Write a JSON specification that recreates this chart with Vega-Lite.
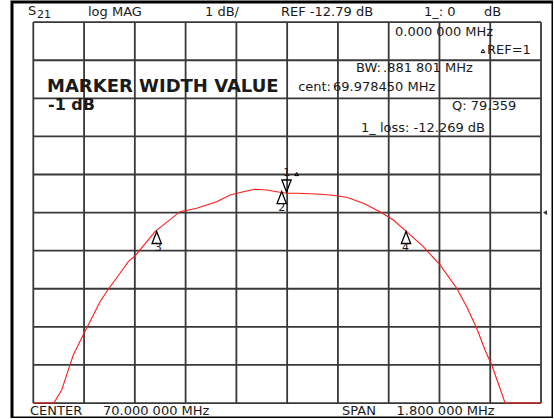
{
  "$schema": "https://vega.github.io/schema/vega-lite/v6.json",
  "width": 541,
  "height": 416,
  "autosize": "none",
  "padding": {"left": 12, "top": 2, "right": 0, "bottom": 0},
  "background": "white",
  "config": {
    "view": {"stroke": "black", "strokeWidth": 3},
    "text": {"font": "DejaVu Sans", "color": "#1a1a1a", "align": "left", "baseline": "middle"}
  },
  "datasets": {
    "vgrid": [{"f": 69.1, "lo": -17.79, "hi": -7.79}, {"f": 69.28, "lo": -17.79, "hi": -7.79}, {"f": 69.46, "lo": -17.79, "hi": -7.79}, {"f": 69.64, "lo": -17.79, "hi": -7.79}, {"f": 69.82, "lo": -17.79, "hi": -7.79}, {"f": 70.0, "lo": -17.79, "hi": -7.79}, {"f": 70.18, "lo": -17.79, "hi": -7.79}, {"f": 70.36, "lo": -17.79, "hi": -7.79}, {"f": 70.54, "lo": -17.79, "hi": -7.79}, {"f": 70.72, "lo": -17.79, "hi": -7.79}, {"f": 70.9, "lo": -17.79, "hi": -7.79}],
    "hgrid": [{"d": -17.79, "lo": 69.1, "hi": 70.9}, {"d": -16.79, "lo": 69.1, "hi": 70.9}, {"d": -15.79, "lo": 69.1, "hi": 70.9}, {"d": -14.79, "lo": 69.1, "hi": 70.9}, {"d": -13.79, "lo": 69.1, "hi": 70.9}, {"d": -12.79, "lo": 69.1, "hi": 70.9}, {"d": -11.79, "lo": 69.1, "hi": 70.9}, {"d": -10.79, "lo": 69.1, "hi": 70.9}, {"d": -9.79, "lo": 69.1, "hi": 70.9}, {"d": -8.79, "lo": 69.1, "hi": 70.9}, {"d": -7.79, "lo": 69.1, "hi": 70.9}],
    "trace": [
      {"f": 69.1, "d": -17.79}, {"f": 69.173, "d": -17.79}, {"f": 69.2007, "d": -17.446}, {"f": 69.2301, "d": -16.79},
      {"f": 69.2418, "d": -16.528}, {"f": 69.2798, "d": -15.958}, {"f": 69.3071, "d": -15.564}, {"f": 69.3365, "d": -15.129},
      {"f": 69.3659, "d": -14.803}, {"f": 69.4074, "d": -14.383}, {"f": 69.4368, "d": -14.079}, {"f": 69.4606, "d": -13.929},
      {"f": 69.5077, "d": -13.509}, {"f": 69.5315, "d": -13.291}, {"f": 69.6201, "d": -12.766}, {"f": 69.6793, "d": -12.677},
      {"f": 69.7502, "d": -12.504}, {"f": 69.7974, "d": -12.328}, {"f": 69.8445, "d": -12.241}, {"f": 69.886, "d": -12.178},
      {"f": 69.9275, "d": -12.197}, {"f": 69.9629, "d": -12.241}, {"f": 69.9984, "d": -12.283}, {"f": 70.0339, "d": -12.283},
      {"f": 70.1048, "d": -12.302}, {"f": 70.1519, "d": -12.328}, {"f": 70.2111, "d": -12.388}, {"f": 70.27, "d": -12.546},
      {"f": 70.3292, "d": -12.766}, {"f": 70.3763, "d": -12.984}, {"f": 70.4238, "d": -13.291}, {"f": 70.4827, "d": -13.685},
      {"f": 70.5419, "d": -14.165}, {"f": 70.6011, "d": -14.777}, {"f": 70.6366, "d": -15.26}, {"f": 70.672, "d": -15.827},
      {"f": 70.7014, "d": -16.396}, {"f": 70.7252, "d": -16.79}, {"f": 70.7546, "d": -17.402}, {"f": 70.7724, "d": -17.79},
      {"f": 70.9, "d": -17.79}
    ],
    "upmarks": [
      {"m": "2", "f": 69.9807, "d": -12.394},
      {"m": "3", "f": 69.5375, "d": -13.444},
      {"m": "4", "f": 70.4214, "d": -13.444}
    ],
    "downmarks": [{"m": "1", "f": 69.9977, "d": -12.092}],
    "smalltri": [
      {"f": 70.0339, "d": -11.777},
      {"f": 70.6943, "d": -8.547}
    ],
    "refarrow": [{"f": 70.9142, "d": -12.79}],
    "mlabels": [
      {"t": "1", "f": 69.9984, "d": -11.758},
      {"t": "2", "f": 69.9807, "d": -12.669},
      {"t": "3", "f": 69.5432, "d": -13.719},
      {"t": "4", "f": 70.4196, "d": -13.719}
    ],
    "header": [
      {"t": "S", "f": 69.0812, "d": -7.497},
      {"t": "log MAG", "f": 69.2939, "d": -7.524},
      {"t": "1 dB/", "f": 69.7088, "d": -7.524},
      {"t": "REF -12.79 dB", "f": 69.9782, "d": -7.524},
      {"t": "1_: 0", "f": 70.4852, "d": -7.524},
      {"t": "dB", "f": 70.6979, "d": -7.524},
      {"t": "0.000 000 MHz", "f": 70.3824, "d": -8.049},
      {"t": "REF=1", "f": 70.7085, "d": -8.521},
      {"t": ".881 801 MHz", "f": 70.3398, "d": -8.994},
      {"t": "69.978450 MHz", "f": 70.1626, "d": -9.493},
      {"t": "Q: 79.359", "f": 70.5844, "d": -9.991},
      {"t": "1_ loss: -12.269 dB", "f": 70.2618, "d": -10.569},
      {"t": "CENTER", "f": 69.0883, "d": -17.999},
      {"t": "70.000 000 MHz", "f": 69.3471, "d": -17.999},
      {"t": "SPAN", "f": 70.1945, "d": -17.999},
      {"t": "1.800 000 MHz", "f": 70.3877, "d": -17.999}
    ],
    "rlabels": [
      {"t": "BW:", "f": 70.3327, "d": -8.994},
      {"t": "cent:", "f": 70.1555, "d": -9.493}
    ],
    "sub": [{"t": "21", "f": 69.1131, "d": -7.602}],
    "big": [
      {"t": "MARKER WIDTH VALUE", "f": 69.1486, "d": -9.493}
    ],
    "big2": [
      {"t": "-1 dB", "f": 69.1521, "d": -9.965}
    ]
  },
  "layer": [
    {
      "data": {"name": "vgrid"},
      "mark": {"type": "rule", "color": "#383838", "strokeWidth": 1.8},
      "encoding": {
        "x": {"field": "f", "type": "quantitative", "axis": null, "scale": {"domain": [69.0245, 70.9425], "nice": false, "zero": false}},
        "y": {"field": "lo", "type": "quantitative", "axis": null, "scale": {"domain": [-18.183, -7.261], "nice": false, "zero": false}},
        "y2": {"field": "hi"}
      }
    },
    {
      "data": {"name": "hgrid"},
      "mark": {"type": "rule", "color": "#383838", "strokeWidth": 1.8},
      "encoding": {
        "x": {"field": "lo", "type": "quantitative"},
        "x2": {"field": "hi"},
        "y": {"field": "d", "type": "quantitative"}
      }
    },
    {
      "data": {"name": "trace"},
      "mark": {"type": "line", "color": "#ff1a1a", "strokeWidth": 1.1},
      "encoding": {"x": {"field": "f", "type": "quantitative"}, "y": {"field": "d", "type": "quantitative"}}
    },
    {
      "data": {"name": "upmarks"},
      "mark": {"type": "point", "shape": "M0,-1.1L-0.85,1.1L0.85,1.1Z", "size": 120, "filled": false, "stroke": "black", "strokeWidth": 1.3, "opacity": 1},
      "encoding": {"x": {"field": "f", "type": "quantitative"}, "y": {"field": "d", "type": "quantitative"}}
    },
    {
      "data": {"name": "downmarks"},
      "mark": {"type": "point", "shape": "M0,1.1L-0.85,-1.1L0.85,-1.1Z", "size": 120, "filled": false, "stroke": "black", "strokeWidth": 1.3, "opacity": 1},
      "encoding": {"x": {"field": "f", "type": "quantitative"}, "y": {"field": "d", "type": "quantitative"}}
    },
    {
      "data": {"name": "smalltri"},
      "mark": {"type": "point", "shape": "triangle-up", "size": 14, "filled": false, "stroke": "black", "strokeWidth": 1, "opacity": 1},
      "encoding": {"x": {"field": "f", "type": "quantitative"}, "y": {"field": "d", "type": "quantitative"}}
    },
    {
      "data": {"name": "refarrow"},
      "mark": {"type": "point", "shape": "triangle-left", "size": 22, "filled": true, "color": "#333333", "opacity": 1},
      "encoding": {"x": {"field": "f", "type": "quantitative"}, "y": {"field": "d", "type": "quantitative"}}
    },
    {
      "data": {"name": "mlabels"},
      "mark": {"type": "text", "fontSize": 11, "align": "center"},
      "encoding": {"x": {"field": "f", "type": "quantitative"}, "y": {"field": "d", "type": "quantitative"}, "text": {"field": "t"}}
    },
    {
      "data": {"name": "header"},
      "mark": {"type": "text", "fontSize": 13},
      "encoding": {"x": {"field": "f", "type": "quantitative"}, "y": {"field": "d", "type": "quantitative"}, "text": {"field": "t"}}
    },
    {
      "data": {"name": "rlabels"},
      "mark": {"type": "text", "fontSize": 13, "align": "right"},
      "encoding": {"x": {"field": "f", "type": "quantitative"}, "y": {"field": "d", "type": "quantitative"}, "text": {"field": "t"}}
    },
    {
      "data": {"name": "sub"},
      "mark": {"type": "text", "fontSize": 11},
      "encoding": {"x": {"field": "f", "type": "quantitative"}, "y": {"field": "d", "type": "quantitative"}, "text": {"field": "t"}}
    },
    {
      "data": {"name": "big"},
      "mark": {"type": "text", "fontSize": 18, "fontWeight": "bold"},
      "encoding": {"x": {"field": "f", "type": "quantitative"}, "y": {"field": "d", "type": "quantitative"}, "text": {"field": "t"}}
    },
    {
      "data": {"name": "big2"},
      "mark": {"type": "text", "fontSize": 16, "fontWeight": "bold"},
      "encoding": {"x": {"field": "f", "type": "quantitative"}, "y": {"field": "d", "type": "quantitative"}, "text": {"field": "t"}}
    }
  ]
}
